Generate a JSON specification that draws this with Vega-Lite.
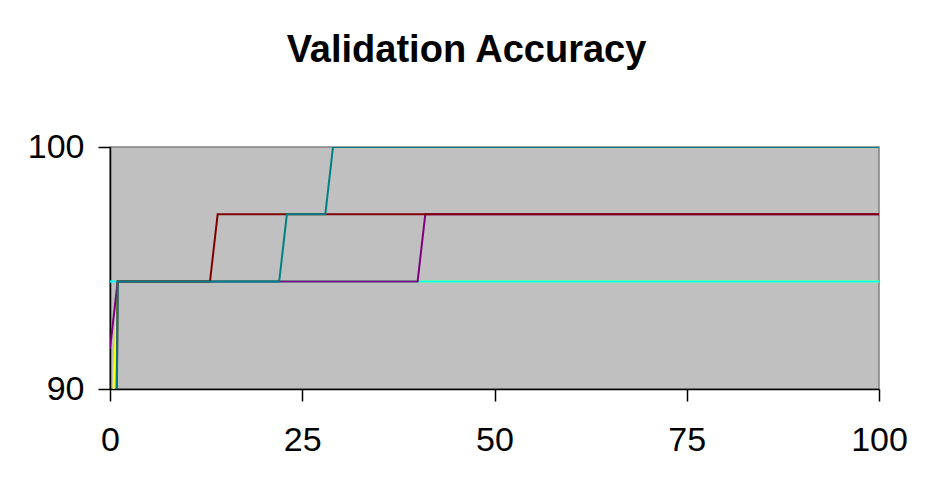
{
  "$schema": "https://vega.github.io/schema/vega-lite/v6.json",
  "autosize": {"type": "none"},
  "width": 769,
  "height": 242,
  "padding": {"left": 110, "top": 147, "right": 53, "bottom": 104},
  "background": "white",
  "title": {
    "text": "Validation Accuracy",
    "font": "Liberation Sans",
    "fontSize": 38,
    "fontWeight": "bold",
    "color": "black",
    "anchor": "middle",
    "dx": -28,
    "offset": 60
  },
  "config": {
    "view": {"fill": "#C0C0C0", "stroke": "#808080", "strokeWidth": 1.5},
    "axis": {
      "grid": false,
      "domainColor": "black",
      "domainWidth": 1.5,
      "tickColor": "black",
      "tickWidth": 1.5,
      "tickSize": 12,
      "labelFont": "Liberation Sans",
      "labelFontSize": 34,
      "labelColor": "black",
      "title": null
    }
  },
  "data": {
    "values": [
      {"series": "yellow", "epoch": 0, "acc": 86.11},
      {"series": "yellow", "epoch": 1, "acc": 94.44},
      {"series": "yellow", "epoch": 100, "acc": 94.44},
      {"series": "cyan", "epoch": 0, "acc": 94.44},
      {"series": "cyan", "epoch": 1, "acc": 94.44},
      {"series": "cyan", "epoch": 100, "acc": 94.44},
      {"series": "purple", "epoch": 0, "acc": 91.67},
      {"series": "purple", "epoch": 1, "acc": 94.44},
      {"series": "purple", "epoch": 40, "acc": 94.44},
      {"series": "purple", "epoch": 41, "acc": 97.22},
      {"series": "purple", "epoch": 100, "acc": 97.22},
      {"series": "darkred", "epoch": 0, "acc": 55},
      {"series": "darkred", "epoch": 1, "acc": 94.44},
      {"series": "darkred", "epoch": 13, "acc": 94.44},
      {"series": "darkred", "epoch": 14, "acc": 97.22},
      {"series": "darkred", "epoch": 100, "acc": 97.22},
      {"series": "teal", "epoch": 0, "acc": 50},
      {"series": "teal", "epoch": 1, "acc": 94.44},
      {"series": "teal", "epoch": 22, "acc": 94.44},
      {"series": "teal", "epoch": 23, "acc": 97.22},
      {"series": "teal", "epoch": 28, "acc": 97.22},
      {"series": "teal", "epoch": 29, "acc": 100},
      {"series": "teal", "epoch": 100, "acc": 100}
    ]
  },
  "encoding": {
    "x": {
      "field": "epoch",
      "type": "quantitative",
      "scale": {"domain": [0, 100], "nice": false},
      "axis": {"values": [0, 25, 50, 75, 100], "labelPadding": 22, "labelFlush": false}
    },
    "y": {
      "field": "acc",
      "type": "quantitative",
      "scale": {"domain": [90, 100], "nice": false, "zero": false},
      "axis": {"values": [90, 100], "labelPadding": 14, "labelFlush": false}
    },
    "color": {
      "field": "series",
      "type": "nominal",
      "scale": {
        "domain": ["yellow", "cyan", "purple", "darkred", "teal"],
        "range": ["#FFFF00", "#00FFFF", "#800080", "#800000", "#008080"]
      },
      "legend": null
    }
  },
  "layer": [
    {"transform": [{"filter": "datum.series === 'yellow'"}], "mark": {"type": "line", "clip": true, "strokeWidth": 2}},
    {"transform": [{"filter": "datum.series === 'cyan'"}], "mark": {"type": "line", "clip": true, "strokeWidth": 2}},
    {"transform": [{"filter": "datum.series === 'purple'"}], "mark": {"type": "line", "clip": true, "strokeWidth": 2}},
    {"transform": [{"filter": "datum.series === 'darkred'"}], "mark": {"type": "line", "clip": true, "strokeWidth": 2}},
    {"transform": [{"filter": "datum.series === 'teal'"}], "mark": {"type": "line", "clip": true, "strokeWidth": 2}}
  ]
}
